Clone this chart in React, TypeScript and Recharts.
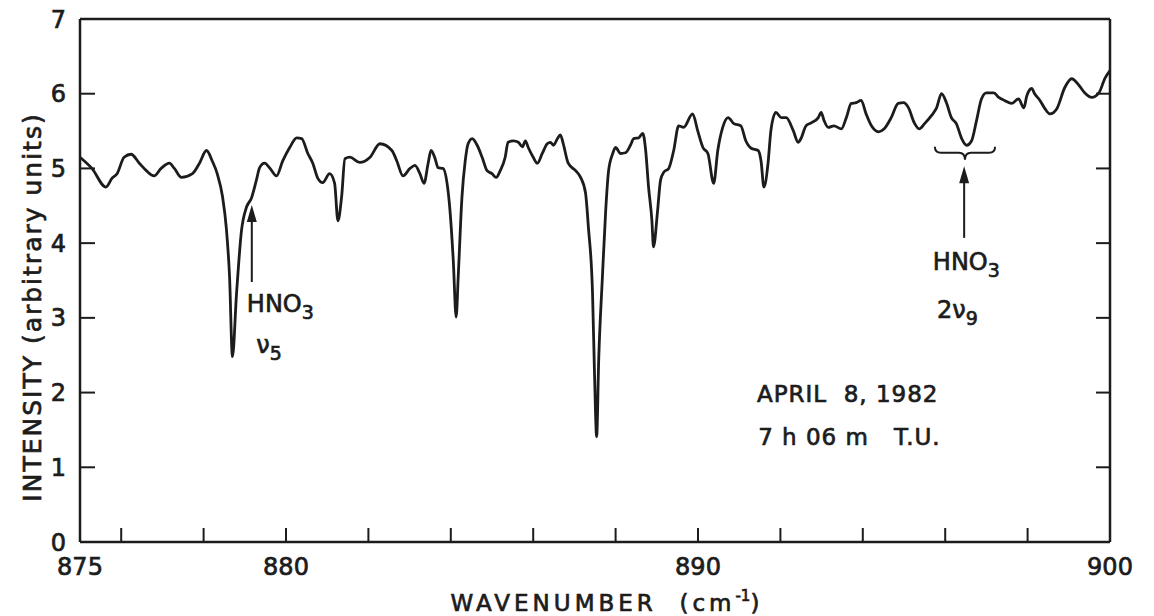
import React from 'react';
import { LineChart, Line, XAxis, YAxis, ReferenceLine, ReferenceDot, Label } from 'recharts';

// ---- data ----
const wavenumbers = [
  875.0, 875.29, 875.63, 875.78, 875.9, 876.07, 876.24, 876.44, 876.61, 876.8, 876.97, 877.17, 877.29, 877.46, 877.73,
  877.9, 878.07, 878.21, 878.33, 878.46, 878.55, 878.63, 878.7, 878.8, 878.92, 879.04, 879.16, 879.28, 879.36, 879.48,
  879.6, 879.77, 879.92, 880.09, 880.26, 880.38, 880.53, 880.65, 880.77, 880.89, 881.06, 881.18, 881.26, 881.35, 881.43,
  881.55, 881.79, 882.04, 882.28, 882.57, 882.69, 882.84, 883.01, 883.13, 883.25, 883.35, 883.45, 883.52, 883.62, 883.69,
  883.81, 883.91, 883.98, 884.06, 884.13, 884.18, 884.27, 884.35, 884.42, 884.52, 884.64, 884.76, 884.88, 885.0, 885.1,
  885.2, 885.32, 885.39, 885.52, 885.64, 885.74, 885.81, 885.88, 886.0, 886.1, 886.22, 886.34, 886.42, 886.49, 886.59,
  886.66, 886.73, 886.85, 887.03, 887.15, 887.27, 887.34, 887.44, 887.49, 887.54, 887.59, 887.68, 887.76, 887.83, 887.93,
  888.0, 888.12, 888.24, 888.36, 888.44, 888.56, 888.66, 888.73, 888.8, 888.88, 888.92, 889.02, 889.09, 889.17, 889.29,
  889.41, 889.53, 889.65, 889.87, 889.99, 890.12, 890.24, 890.38, 890.48, 890.6, 890.73, 890.87, 891.04, 891.16, 891.29,
  891.46, 891.53, 891.6, 891.7, 891.77, 891.89, 892.02, 892.14, 892.31, 892.43, 892.5, 892.62, 892.75, 892.92, 892.99,
  893.06, 893.16, 893.3, 893.48, 893.6, 893.72, 893.84, 893.96, 894.08, 894.21, 894.38, 894.52, 894.69, 894.86, 894.99,
  895.11, 895.25, 895.37, 895.5, 895.67, 895.79, 895.91, 896.03, 896.15, 896.27, 896.4, 896.52, 896.64, 896.76, 896.88,
  897.0, 897.18, 897.3, 897.44, 897.61, 897.78, 897.91, 897.98, 898.1, 898.17, 898.3, 898.42, 898.54, 898.71, 898.9,
  899.07, 899.25, 899.39, 899.56, 899.73, 899.88, 900.0,
];
const intensity = [
  5.15, 5.0, 4.75, 4.87, 4.93, 5.15, 5.19, 5.07, 4.97, 4.9, 5.0, 5.07, 5.0, 4.88, 4.93,
  5.07, 5.24, 5.1, 4.93, 4.62, 4.21, 3.55, 2.48, 3.33, 4.17, 4.48, 4.6, 4.84, 5.01, 5.07,
  5.01, 4.9, 5.1, 5.28, 5.41, 5.4, 5.2, 5.07, 4.87, 4.81, 4.93, 4.8, 4.3, 4.62, 5.13,
  5.15, 5.08, 5.15, 5.33, 5.24, 5.1, 4.9, 5.0, 5.04, 4.93, 4.8, 5.07, 5.24, 5.13, 5.01,
  5.0, 4.8, 4.44, 3.77, 3.01, 3.55, 4.61, 5.1, 5.33, 5.4, 5.31, 5.15, 4.97, 4.93, 4.88,
  4.97, 5.15, 5.35, 5.37, 5.35, 5.29, 5.37, 5.28, 5.15, 5.07, 5.2, 5.33, 5.35, 5.31, 5.4,
  5.45, 5.33, 5.07, 4.97, 4.88, 4.67, 4.21, 3.33, 2.21, 1.41, 2.44, 3.55, 4.44, 4.97, 5.2,
  5.28, 5.2, 5.21, 5.31, 5.4, 5.41, 5.47, 5.24, 4.75, 4.31, 3.95, 4.44, 4.84, 4.95, 5.0,
  5.24, 5.57, 5.55, 5.73, 5.51, 5.28, 5.2, 4.8, 5.24, 5.55, 5.68, 5.6, 5.57, 5.37, 5.27,
  5.24, 5.1, 4.75, 5.07, 5.51, 5.75, 5.68, 5.68, 5.51, 5.35, 5.4, 5.57, 5.61, 5.68, 5.75,
  5.64, 5.55, 5.57, 5.53, 5.68, 5.87, 5.88, 5.91, 5.73, 5.57, 5.49, 5.53, 5.68, 5.87, 5.88,
  5.81, 5.61, 5.53, 5.6, 5.71, 5.81, 6.0, 5.88, 5.68, 5.6, 5.4, 5.31, 5.37, 5.64, 5.93,
  6.01, 6.01, 5.95, 5.91, 5.87, 5.93, 5.81, 5.97, 6.07, 6.0, 5.91, 5.8, 5.73, 5.8, 6.08,
  6.2, 6.11, 6.01, 5.95, 6.01, 6.21, 6.31,
];
const xTickValues = [875, 876, 878, 880, 882, 884, 886, 888, 890, 892, 894, 896, 898, 900];
const xLabelValues = [875, 880, 890, 900];
const yTickValues = [0, 1, 2, 3, 4, 5, 6, 7];

const data = wavenumbers.map((w, i) => ({ w, v: intensity[i] }));

const INK = '#1c1c1c';
const FONT = "'DejaVu Sans', 'Liberation Sans', sans-serif";
const W = 1154;
const H = 616;
// slight outline to give the text the heavier weight of the original print
const HEAVY = { stroke: INK, strokeWidth: 0.7 };

const BottomTick = (p: any) => {
  const v = p.payload.value;
  const inner = v > 875 && v < 900;
  return (
    <g>
      {inner && <line x1={p.x} y1={p.y} x2={p.x} y2={p.y - 14} stroke={INK} strokeWidth={2} />}
      {xLabelValues.includes(v) && (
        <text x={p.x} y={p.y + 33} textAnchor="middle" fontSize={24} fill={INK} fontFamily={FONT} {...HEAVY}>
          {v}
        </text>
      )}
    </g>
  );
};
const TopTick = (p: any) => {
  const v = p.payload.value;
  if (!(v > 875 && v < 900)) return <g />;
  return <line x1={p.x} y1={p.y} x2={p.x} y2={p.y + 13} stroke={INK} strokeWidth={2} />;
};
const LeftTick = (p: any) => {
  const v = p.payload.value;
  const inner = v > 0 && v < 7;
  return (
    <g>
      {inner && <line x1={p.x} y1={p.y} x2={p.x + 15} y2={p.y} stroke={INK} strokeWidth={2} />}
      <text x={p.x - 14} y={p.y} dy="0.36em" textAnchor="end" fontSize={24} fill={INK} fontFamily={FONT} {...HEAVY}>
        {v}
      </text>
    </g>
  );
};
const RightTick = (p: any) => {
  const v = p.payload.value;
  if (!(v > 0 && v < 7)) return <g />;
  return <line x1={p.x} y1={p.y} x2={p.x - 14} y2={p.y} stroke={INK} strokeWidth={2} />;
};

const Arrow = (p: any) => {
  const { x1, y1, x2, y2 } = p;
  return (
    <g>
      <line x1={x1} y1={y1} x2={x2} y2={y2 + 10} stroke={INK} strokeWidth={2} />
      <polygon points={`${x2},${y2} ${x2 - 5},${y2 + 17} ${x2 + 5},${y2 + 17}`} fill={INK} />
    </g>
  );
};
const Brace = (p: any) => {
  const { x1, y1, x2 } = p;
  const xl = Math.min(x1, x2);
  const xr = Math.max(x1, x2);
  const xc = (xl + xr) / 2;
  const y = y1;
  const d = `M${xl},${y - 6} Q${xl},${y} ${xl + 6},${y} L${xc - 6},${y} Q${xc},${y} ${xc},${y + 7} Q${xc},${y} ${xc + 6},${y} L${xr - 6},${y} Q${xr},${y} ${xr},${y - 6}`;
  return <path d={d} fill="none" stroke={INK} strokeWidth={2} />;
};

const chem = (main: string, sub: string) => (p: any) => (
  <text x={p.cx} y={p.cy} fontSize={24} fill={INK} fontFamily={FONT} {...HEAVY}>
    {main}
    <tspan dy={7} fontSize={19}>{sub}</tspan>
  </text>
);
const plain = (s: string) => (p: any) => (
  <text x={p.cx} y={p.cy} fontSize={23} fill={INK} fontFamily={FONT} letterSpacing={1} style={{ whiteSpace: 'pre' }} {...HEAVY}>
    {s}
  </text>
);

export default function App() {
  return (
    <div style={{ position: 'absolute', left: 0, top: 0, width: W, height: H, background: '#fff' }}>
      <LineChart width={W} height={H} data={data} margin={{ top: 18, right: 43, bottom: 0, left: 0 }}>
        <XAxis
          xAxisId="b"
          dataKey="w"
          type="number"
          domain={[875, 900]}
          allowDataOverflow
          ticks={xTickValues}
          interval={0}
          tick={BottomTick}
          tickLine={false}
          tickSize={0}
          tickMargin={0}
          height={74}
          axisLine={{ stroke: INK, strokeWidth: 2.5 }}
        >
          <Label
            content={(lp: any) => {
              const vb = lp.viewBox || {};
              const cx = vb.x + vb.width / 2 + 12;
              return (
                <text x={cx} y={611} textAnchor="middle" fontSize={23} fill={INK} fontFamily={FONT} letterSpacing={4} style={{ whiteSpace: 'pre' }} {...HEAVY}>
                  {'WAVENUMBER  (cm'}
                  <tspan dy={-10} fontSize={15} letterSpacing={0}>-1</tspan>
                  <tspan dy={10}>)</tspan>
                </text>
              );
            }}
          />
        </XAxis>
        <XAxis
          xAxisId="t"
          orientation="top"
          type="number"
          domain={[875, 900]}
          allowDataOverflow
          ticks={xTickValues}
          interval={0}
          tick={TopTick}
          tickLine={false}
          tickSize={0}
          tickMargin={0}
          height={1}
          axisLine={{ stroke: INK, strokeWidth: 2.5 }}
        />
        <YAxis
          yAxisId="l"
          type="number"
          domain={[0, 7]}
          allowDataOverflow
          ticks={yTickValues}
          interval={0}
          tick={LeftTick}
          tickLine={false}
          tickSize={0}
          tickMargin={0}
          width={80}
          axisLine={{ stroke: INK, strokeWidth: 2.5 }}
        >
          <Label
            content={() => (
              <text x={41} y={307} transform="rotate(-90, 41, 307)" textAnchor="middle" fontSize={25} fill={INK} fontFamily={FONT} letterSpacing={2} {...HEAVY}>
                INTENSITY (arbitrary units)
              </text>
            )}
          />
        </YAxis>
        <YAxis
          yAxisId="r"
          orientation="right"
          type="number"
          domain={[0, 7]}
          allowDataOverflow
          ticks={yTickValues}
          interval={0}
          tick={RightTick}
          tickLine={false}
          tickSize={0}
          tickMargin={0}
          width={1}
          axisLine={{ stroke: INK, strokeWidth: 2.5 }}
        />
        <Line
          xAxisId="b"
          yAxisId="l"
          dataKey="v"
          type="monotone"
          stroke={INK}
          strokeWidth={2.8}
          dot={false}
          isAnimationActive={false}
        />
        <ReferenceLine xAxisId="b" yAxisId="l" segment={[{ x: 879.17, y: 3.48 }, { x: 879.17, y: 4.51 }]} shape={Arrow} />
        <ReferenceLine xAxisId="b" yAxisId="l" segment={[{ x: 896.46, y: 4.07 }, { x: 896.46, y: 5.03 }]} shape={Arrow} />
        <ReferenceLine xAxisId="b" yAxisId="l" segment={[{ x: 895.75, y: 5.21 }, { x: 897.21, y: 5.21 }]} shape={Brace} />
        <ReferenceDot xAxisId="b" yAxisId="l" x={879.05} y={3.08} r={1} shape={chem('HNO', '3')} />
        <ReferenceDot xAxisId="b" yAxisId="l" x={879.28} y={2.53} r={1} shape={chem('ν', '5')} />
        <ReferenceDot xAxisId="b" yAxisId="l" x={895.7} y={3.64} r={1} shape={chem('HNO', '3')} />
        <ReferenceDot xAxisId="b" yAxisId="l" x={895.8} y={3.0} r={1} shape={chem('2ν', '9')} />
        <ReferenceDot xAxisId="b" yAxisId="l" x={891.43} y={1.87} r={1} shape={plain('APRIL  8, 1982')} />
        <ReferenceDot xAxisId="b" yAxisId="l" x={891.46} y={1.3} r={1} shape={plain('7 h 06 m   T.U.')} />
      </LineChart>
    </div>
  );
}
